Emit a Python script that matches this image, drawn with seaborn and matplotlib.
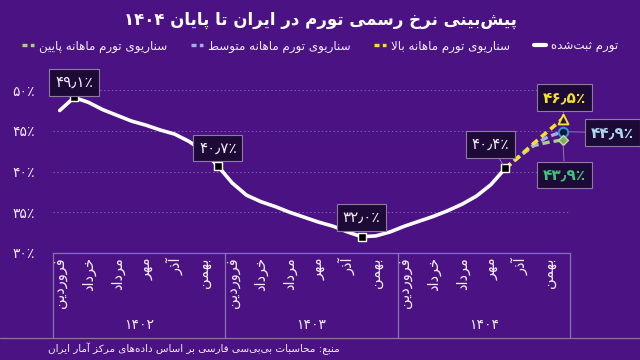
import re
import numpy as np
import pandas as pd
import matplotlib
matplotlib.use("Agg")
import matplotlib.pyplot as plt
import matplotlib.transforms as mtransforms
from matplotlib.lines import Line2D
import seaborn as sns

# ---------------- data ----------------
title = "پیش‌بینی نرخ رسمی تورم در ایران تا پایان ۱۴۰۴"
source = "منبع: محاسبات بی‌بی‌سی فارسی بر اساس داده‌های مرکز آمار ایران"
years = ["۱۴۰۲", "۱۴۰۳", "۱۴۰۴"]
months = ["فروردین", "اردیبهشت", "خرداد", "تیر", "مرداد", "شهریور",
          "مهر", "آبان", "آذر", "دی", "بهمن", "اسفند"]
series_names = ["تورم ثبت‌شده", "سناریوی تورم ماهانه بالا",
                "سناریوی تورم ماهانه متوسط", "سناریوی تورم ماهانه پایین"]
recorded = [47.5, 49.1, 48.5, 47.6, 46.9, 46.2, 45.7, 45.1, 44.6, 43.7, 42.5, 40.7,
            38.6, 37.1, 36.3, 35.7, 35.0, 34.4, 33.8, 33.3, 32.6, 32.0, 32.1, 32.6,
            33.3, 33.9, 34.5, 35.2, 36.0, 37.0, 38.4, 40.4]
scen_high = [40.4, 41.9, 43.5, 45.0, 46.5]
scen_mid = [40.4, 41.9, 43.3, 44.3, 44.9]
scen_low = [40.4, 41.9, 43.2, 43.6, 43.9]
labeled_idx = [1, 11, 21, 31]
y_ticks = [30, 35, 40, 45, 50]

# ---------------- Persian shaping (no external libs) ----------------
FORMS = {
    '\u0622': ('\uFE81', '\uFE82', None, None),
    '\u0627': ('\uFE8D', '\uFE8E', None, None),
    '\u0628': ('\uFE8F', '\uFE90', '\uFE91', '\uFE92'),
    '\u067E': ('\uFB56', '\uFB57', '\uFB58', '\uFB59'),
    '\u062A': ('\uFE95', '\uFE96', '\uFE97', '\uFE98'),
    '\u062B': ('\uFE99', '\uFE9A', '\uFE9B', '\uFE9C'),
    '\u062C': ('\uFE9D', '\uFE9E', '\uFE9F', '\uFEA0'),
    '\u0686': ('\uFB7A', '\uFB7B', '\uFB7C', '\uFB7D'),
    '\u062D': ('\uFEA1', '\uFEA2', '\uFEA3', '\uFEA4'),
    '\u062E': ('\uFEA5', '\uFEA6', '\uFEA7', '\uFEA8'),
    '\u062F': ('\uFEA9', '\uFEAA', None, None),
    '\u0630': ('\uFEAB', '\uFEAC', None, None),
    '\u0631': ('\uFEAD', '\uFEAE', None, None),
    '\u0632': ('\uFEAF', '\uFEB0', None, None),
    '\u0698': ('\uFB8A', '\uFB8B', None, None),
    '\u0633': ('\uFEB1', '\uFEB2', '\uFEB3', '\uFEB4'),
    '\u0634': ('\uFEB5', '\uFEB6', '\uFEB7', '\uFEB8'),
    '\u0635': ('\uFEB9', '\uFEBA', '\uFEBB', '\uFEBC'),
    '\u0636': ('\uFEBD', '\uFEBE', '\uFEBF', '\uFEC0'),
    '\u0637': ('\uFEC1', '\uFEC2', '\uFEC3', '\uFEC4'),
    '\u0638': ('\uFEC5', '\uFEC6', '\uFEC7', '\uFEC8'),
    '\u0639': ('\uFEC9', '\uFECA', '\uFECB', '\uFECC'),
    '\u063A': ('\uFECD', '\uFECE', '\uFECF', '\uFED0'),
    '\u0641': ('\uFED1', '\uFED2', '\uFED3', '\uFED4'),
    '\u0642': ('\uFED5', '\uFED6', '\uFED7', '\uFED8'),
    '\u06A9': ('\uFB8E', '\uFB8F', '\uFB90', '\uFB91'),
    '\u06AF': ('\uFB92', '\uFB93', '\uFB94', '\uFB95'),
    '\u0644': ('\uFEDD', '\uFEDE', '\uFEDF', '\uFEE0'),
    '\u0645': ('\uFEE1', '\uFEE2', '\uFEE3', '\uFEE4'),
    '\u0646': ('\uFEE5', '\uFEE6', '\uFEE7', '\uFEE8'),
    '\u0648': ('\uFEED', '\uFEEE', None, None),
    '\u0647': ('\uFEE9', '\uFEEA', '\uFEEB', '\uFEEC'),
    '\u06CC': ('\uFBFC', '\uFBFD', '\uFBFE', '\uFBFF'),
}


def _joins_left(ch):
    return ch in FORMS and FORMS[ch][2] is not None


def fa(s):
    out = []
    n = len(s)
    i = 0
    while i < n:
        c = s[i]
        prev_ok = i > 0 and _joins_left(s[i - 1])
        if c == '\u0644' and i + 1 < n and s[i + 1] in ('\u0627', '\u0622'):
            lig = {'\u0627': ('\uFEFB', '\uFEFC'), '\u0622': ('\uFEF5', '\uFEF6')}[s[i + 1]]
            out.append(lig[1] if prev_ok else lig[0])
            i += 2
            continue
        if c in FORMS:
            f = FORMS[c]
            nxt = s[i + 1] if i + 1 < n else ''
            next_ok = f[2] is not None and nxt in FORMS
            if prev_ok and next_ok:
                out.append(f[3])
            elif prev_ok:
                out.append(f[1])
            elif next_ok:
                out.append(f[2])
            else:
                out.append(f[0])
        elif c != '\u200c':
            out.append(c)
        i += 1
    vis = ''.join(out)[::-1]
    vis = re.sub(r'[0-9\u06F0-\u06F9\u066B\u066C]+', lambda m: m.group(0)[::-1], vis)
    return vis


def fa_num(v, fmt="{:.1f}%"):
    return fmt.format(v).translate(str.maketrans("0123456789.%", "۰۱۲۳۴۵۶۷۸۹٫٪"))


# ---------------- style ----------------
BG = "#4b1284"
TXT = "#f2ecf8"
LINEC = "#8a72ad"
YEL = "#f2e22c"
BLU = "#a3aee6"
GRN = "#a6cf8a"
BOXFC = "#1e0a36"
BOXEC = "#8c7ba3"

sns.set_style("dark")
plt.rcParams["font.family"] = ["DejaVu Sans"]
plt.rcParams["axes.unicode_minus"] = False

fig = plt.figure(figsize=(6.4, 3.6), dpi=100)
fig.patch.set_facecolor(BG)
L, R, B, T = 52.5, 570.0, 253.0, 82.0
ax = fig.add_axes([L / 640, 1 - B / 360, (R - L) / 640, (B - T) / 360])
ax.set_facecolor(BG)

n_total = len(years) * len(months)
df_rec = pd.DataFrame({"x": np.arange(len(recorded)), "v": recorded})
x_s = np.arange(len(recorded) - 1, len(recorded) - 1 + len(scen_high))
df_sc = pd.DataFrame({"x": x_s, "high": scen_high, "mid": scen_mid, "low": scen_low})

# grid
for yv in y_ticks[1:]:
    ax.axhline(yv, color="#c9b8e0", lw=0.7, ls=(0, (1.5, 2.5)), alpha=0.45, zorder=1)

# scenario lines
sns.lineplot(data=df_sc, x="x", y="low", ax=ax, color=GRN, lw=2.4, zorder=3)
ax.lines[-1].set_dashes((2.2, 1.2))
sns.lineplot(data=df_sc, x="x", y="mid", ax=ax, color=BLU, lw=2.4, zorder=3)
ax.lines[-1].set_dashes((2.2, 1.2))
sns.lineplot(data=df_sc, x="x", y="high", ax=ax, color=YEL, lw=2.6, zorder=4)
ax.lines[-1].set_dashes((2.0, 1.3))

# recorded
sns.lineplot(data=df_rec, x="x", y="v", ax=ax, color="white", lw=2.6, zorder=5)

# markers
df_lab = df_rec.iloc[labeled_idx]
sns.scatterplot(data=df_lab, x="x", y="v", ax=ax, marker="s", s=30, color="black",
                edgecolor="white", linewidth=1.0, zorder=7)
end = df_sc.iloc[[-1]]
sns.scatterplot(data=end, x="x", y="high", ax=ax, marker="^", s=50, color="#2a1030",
                edgecolor=YEL, linewidth=1.4, zorder=8)
sns.scatterplot(data=end, x="x", y="mid", ax=ax, marker="o", s=45, color="#10183a",
                edgecolor="#2f95dc", linewidth=1.4, zorder=8)
sns.scatterplot(data=end, x="x", y="low", ax=ax, marker="D", s=25, color="#7fae58",
                edgecolor="#c2e0a0", linewidth=1.0, zorder=8)

# value labels
box = dict(boxstyle="square,pad=0.38", fc=BOXFC, ec=BOXEC, lw=0.8)
lab_offsets = [(0, 15), (0, 18), (0, 19), (-15, 24)]
for i, off in zip(labeled_idx, lab_offsets):
    v = recorded[i]
    arrow = dict(arrowstyle="-", color=BOXEC, lw=0.7, shrinkA=0, shrinkB=3) if off[0] else None
    ax.annotate(fa_num(v), xy=(i, v), xytext=off, textcoords="offset pixels",
                ha="center", va="center", fontsize=11, color=TXT, bbox=box,
                arrowprops=arrow, zorder=9, annotation_clip=False)

xe = x_s[-1]
for vals, off, col in [(scen_high, (2, 21), YEL), (scen_mid, (50, -1), "#aed6f2"),
                       (scen_low, (2, -35), "#3ec27c")]:
    arrow = dict(arrowstyle="-", color=BOXEC, lw=0.7, shrinkA=0, shrinkB=4)
    ax.annotate(fa_num(vals[-1]), xy=(xe, vals[-1]), xytext=off, textcoords="offset pixels",
                ha="center", va="center", fontsize=11, fontweight="bold", color=col,
                bbox=box, arrowprops=arrow, zorder=9, annotation_clip=False)

# axes
ax.set_xlim(-0.5, n_total - 0.5)
ax.set_ylim(30, 51)
ax.set_yticks(y_ticks)
ax.set_yticklabels([fa_num(v, "{:d}%") for v in y_ticks], color=TXT, fontsize=10)
tick_pos = [y * 12 + m for y in range(len(years)) for m in range(0, 12, 2)]
ax.set_xticks(tick_pos)
ax.set_xticklabels([fa(months[p % 12]) for p in tick_pos], rotation=90, va="top",
                   ha="center", color=TXT, fontsize=10.5)
ax.tick_params(axis="both", length=0)
ax.tick_params(axis="y", pad=13)
ax.tick_params(axis="x", pad=3)
ax.set_xlabel("")
ax.set_ylabel("")
ax.grid(False)
for s in ["left", "right", "top"]:
    ax.spines[s].set_visible(False)
ax.spines["bottom"].set_color(LINEC)
ax.spines["bottom"].set_linewidth(0.9)

# year grouping
trans = mtransforms.blended_transform_factory(ax.transData, ax.transAxes)
bottom_ax = -(338 - 253) / (253 - 82)
for k in range(len(years) + 1):
    xb = k * 12 - 0.5
    ax.plot([xb, xb], [0, bottom_ax], transform=trans, color=LINEC, lw=0.9, clip_on=False)
for k, yname in enumerate(years):
    ax.text(k * 12 + 5.5, -(325 - 253) / (253 - 82), yname, transform=trans,
            ha="center", va="center", color=TXT, fontsize=10)
fig.add_artist(Line2D([0, 1], [1 - 338 / 360] * 2, color=LINEC, lw=0.9))

# title, legend, source
fig.text(0.5, 1 - 20 / 360, fa(title), ha="center", va="center", color="white",
         fontsize=12, fontweight="bold")
handles = [
    Line2D([], [], color=GRN, lw=2.4, dashes=(1.5, 1.0)),
    Line2D([], [], color=BLU, lw=2.4, dashes=(1.5, 1.0)),
    Line2D([], [], color=YEL, lw=2.4, dashes=(1.5, 1.0)),
    Line2D([], [], color="white", lw=3.0),
]
labels = [fa(series_names[3]), fa(series_names[2]), fa(series_names[1]), fa(series_names[0])]
fig.legend(handles, labels, loc="center", bbox_to_anchor=(0.5, 1 - 46 / 360), ncol=4,
           frameon=False, fontsize=8.6, labelcolor=TXT, handlelength=1.0,
           handletextpad=0.4, columnspacing=2.0)
fig.text(48 / 640, 1 - 349 / 360, fa(source), ha="left", va="center", color=TXT,
         fontsize=7.5)

fig.savefig("out.png", dpi=100, facecolor=BG)
